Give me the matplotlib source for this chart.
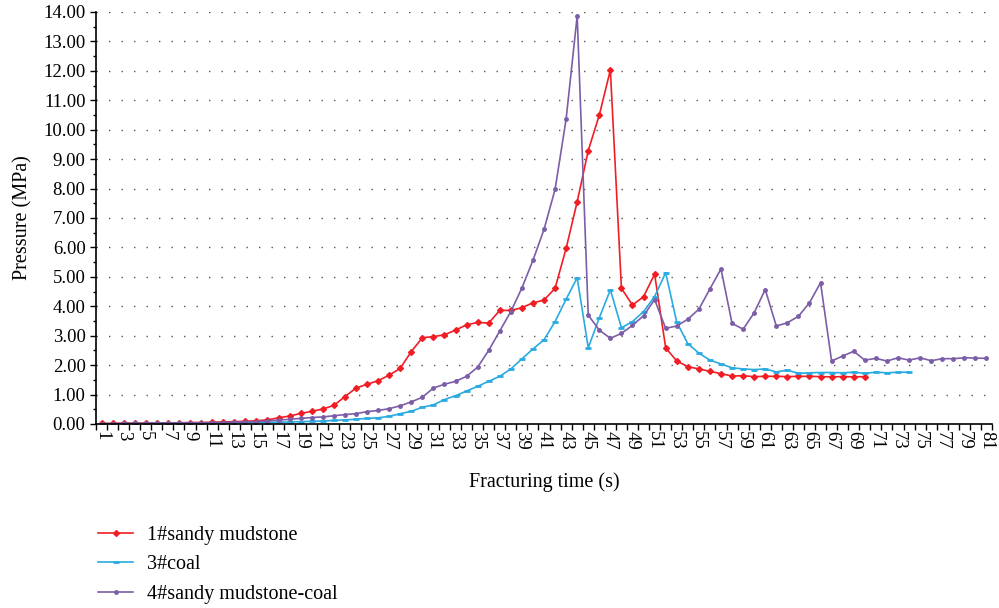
import matplotlib.pyplot as plt
from matplotlib.ticker import FixedLocator, MultipleLocator, FormatStrFormatter

plt.rcParams['font.family'] = ['Liberation Serif', 'DejaVu Serif']

# Pressure readings (MPa) per second of fracturing
sandy_mudstone = [0.02, 0.02, 0.03, 0.03, 0.03, 0.04, 0.04, 0.04, 0.05, 0.05,
                  0.06, 0.07, 0.08, 0.09, 0.11, 0.14, 0.21, 0.27, 0.36, 0.43,
                  0.51, 0.63, 0.93, 1.22, 1.35, 1.47, 1.66, 1.89, 2.46, 2.93,
                  2.97, 3.03, 3.19, 3.37, 3.45, 3.43, 3.86, 3.86, 3.95, 4.12,
                  4.21, 4.61, 5.97, 7.55, 9.29, 10.50, 12.03, 4.61, 4.04, 4.33,
                  5.09, 2.59, 2.14, 1.95, 1.87, 1.79, 1.71, 1.63, 1.64, 1.61,
                  1.62, 1.62, 1.61, 1.62, 1.62, 1.61, 1.60, 1.61, 1.60, 1.61]
coal = [0.01, 0.01, 0.01, 0.01, 0.01, 0.02, 0.02, 0.02, 0.02, 0.02,
        0.03, 0.03, 0.03, 0.04, 0.04, 0.05, 0.06, 0.07, 0.08, 0.09,
        0.10, 0.12, 0.14, 0.16, 0.19, 0.21, 0.26, 0.35, 0.43, 0.57,
        0.65, 0.83, 0.96, 1.12, 1.28, 1.45, 1.62, 1.87, 2.21, 2.55,
        2.86, 3.48, 4.24, 4.97, 2.59, 3.61, 4.56, 3.27, 3.48, 3.82,
        4.33, 5.14, 3.46, 2.73, 2.41, 2.17, 2.04, 1.91, 1.87, 1.85,
        1.87, 1.77, 1.83, 1.72, 1.74, 1.75, 1.75, 1.74, 1.76, 1.72,
        1.76, 1.74, 1.76, 1.76]
mudstone_coal = [0.01, 0.01, 0.02, 0.02, 0.02, 0.03, 0.03, 0.03, 0.04, 0.04,
                 0.05, 0.05, 0.06, 0.07, 0.08, 0.10, 0.13, 0.16, 0.19, 0.22,
                 0.24, 0.28, 0.32, 0.35, 0.42, 0.46, 0.52, 0.62, 0.75, 0.91,
                 1.22, 1.35, 1.45, 1.62, 1.93, 2.50, 3.16, 3.82, 4.62, 5.56,
                 6.61, 7.97, 10.36, 13.87, 3.70, 3.19, 2.91, 3.08, 3.35, 3.68,
                 4.23, 3.25, 3.33, 3.56, 3.90, 4.59, 5.27, 3.42, 3.22, 3.78,
                 4.57, 3.33, 3.44, 3.66, 4.12, 4.80, 2.14, 2.31, 2.47, 2.17,
                 2.23, 2.14, 2.25, 2.17, 2.25, 2.15, 2.22, 2.22, 2.25, 2.24,
                 2.23]

fig = plt.figure(figsize=(9.99, 6.08), dpi=100)
ax = fig.add_axes([96 / 999, 184 / 608, 896 / 999, 412 / 608])

ax.plot(range(1, len(sandy_mudstone) + 1), sandy_mudstone, color='#f01e24',
        lw=1.2, marker='D', ms=3, label='1#sandy mudstone')
ax.plot(range(1, len(coal) + 1), coal, color='#29abe2',
        lw=1.2, marker='_', ms=4, mew=2, label='3#coal')
ax.plot(range(1, len(mudstone_coal) + 1), mudstone_coal, color='#7b5ea7',
        lw=1.2, marker='o', ms=2.5, label='4#sandy mudstone-coal')

ax.set_xlim(0.5, 81.5)
ax.set_ylim(0, 14)
ax.xaxis.set_major_locator(FixedLocator(range(1, 82, 2)))
ax.xaxis.set_minor_locator(FixedLocator([i + 0.5 for i in range(0, 82)]))
ax.tick_params(axis='x', which='major', length=0, labelrotation=270, pad=5,
               labelsize=13.5)
ax.tick_params(axis='x', which='minor', length=4, width=1)
ax.yaxis.set_major_locator(MultipleLocator(1))
ax.yaxis.set_minor_locator(MultipleLocator(0.5))
ax.yaxis.set_major_formatter(FormatStrFormatter('%.2f'))
ax.tick_params(axis='y', which='major', length=4, width=1, labelsize=13.5)
ax.tick_params(axis='y', which='minor', length=2.5, width=1)

ax.grid(axis='y', which='major', color='#555555', lw=1, ls=(0, (1, 8)))
ax.spines['top'].set_visible(False)
ax.spines['right'].set_visible(False)
ax.spines['left'].set_linewidth(1.2)
ax.spines['bottom'].set_linewidth(1.2)

ax.set_ylabel('Pressure (MPa)', fontsize=14.5, labelpad=8)
ax.set_xlabel('Fracturing time (s)', fontsize=14.5, labelpad=16.5)

fig.legend(loc='upper left', bbox_to_anchor=(0.080, 0.165), frameon=False,
           fontsize=14.5, handlelength=1.75, handletextpad=0.7,
           labelspacing=0.52)

fig.savefig('out.png', dpi=100)
